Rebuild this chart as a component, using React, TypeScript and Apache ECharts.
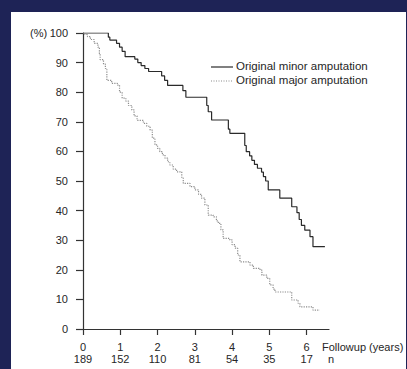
import React, { useEffect, useRef } from "react";
import * as echarts from "echarts";

const yearTicks = [0, 1, 2, 3, 4, 5, 6];
const nAtRisk = [189, 152, 110, 81, 54, 35, 17];
const yTicks = [0, 10, 20, 30, 40, 50, 60, 70, 80, 90, 100];

const seriesNames = ["Original minor amputation", "Original major amputation"];

const minorAmputation: [number, number][] = [
  [0, 100], [0.68, 98.6], [0.72, 97.6], [0.9, 96.5], [0.98, 95.2], [1.05, 93.8], [1.13, 92],
  [1.39, 91.2], [1.47, 90], [1.56, 89], [1.66, 88], [1.76, 87], [2.11, 85.5], [2.19, 84],
  [2.27, 82.3], [2.68, 80.5], [2.76, 78.3], [3.32, 75.5], [3.36, 73.4], [3.45, 70.6],
  [3.9, 67.5], [3.94, 66.1], [4.34, 62], [4.38, 59.9], [4.47, 58.5], [4.53, 57], [4.6, 55.6],
  [4.68, 54.3], [4.79, 53], [4.84, 51.5], [4.9, 50], [4.97, 47], [5.28, 44.2], [5.6, 41.3],
  [5.74, 39.3], [5.8, 37], [5.86, 35], [5.95, 33.4], [6.09, 31.2], [6.17, 27.8], [6.49, 27.8],
];

const majorAmputation: [number, number][] = [
  [0, 100], [0.05, 99.5], [0.12, 98.8], [0.2, 97.8], [0.3, 96.5], [0.4, 95.2], [0.44, 93],
  [0.46, 91], [0.55, 89.5], [0.6, 88], [0.64, 84], [0.77, 83], [0.92, 82.4], [0.98, 80],
  [1.05, 78], [1.15, 77], [1.22, 75.5], [1.31, 74], [1.37, 72], [1.45, 70.5], [1.62, 69.5],
  [1.71, 68.5], [1.8, 67.2], [1.86, 64.5], [1.93, 62.2], [2.0, 61], [2.06, 59.9], [2.13, 58.8],
  [2.2, 57.7], [2.27, 56.5], [2.33, 55.4], [2.42, 54], [2.51, 53.1], [2.65, 51], [2.69, 49.2],
  [2.87, 48.1], [3.0, 47], [3.1, 45.5], [3.18, 44.2], [3.27, 41.9], [3.36, 38.5], [3.49, 37.9],
  [3.58, 36.5], [3.63, 35.7], [3.7, 33.5], [3.76, 30.6], [3.94, 30.1], [4.0, 28.5], [4.08, 27.3],
  [4.15, 25], [4.21, 22.7], [4.48, 21.6], [4.57, 20.5], [4.75, 19.9], [4.8, 18.2], [4.93, 17.1],
  [5.01, 14.9], [5.1, 13.5], [5.15, 12.5], [5.6, 9.8], [5.77, 8.7], [5.82, 7.5], [6.17, 6.4],
  [6.35, 6.2],
];

const FONT = "'Liberation Sans', Arial, sans-serif";
const TEXT = "#262626";
const SOLID = "#2a2a2a";
const DOTTED = "#8c8c8c";

export default function App() {
  const ref = useRef<HTMLDivElement>(null);
  useEffect(() => {
    if (!ref.current) return;
    const chart = echarts.init(ref.current, null, { renderer: "svg" });
    chart.setOption({
      animation: false,
      textStyle: { fontFamily: FONT },
      grid: { left: 83, top: 33, right: 78, bottom: 40, containLabel: false },
      xAxis: {
        type: "value",
        min: 0,
        max: 6.6,
        interval: 1,
        splitLine: { show: false },
        axisLine: { show: true, lineStyle: { color: "#333", width: 1.2 } },
        axisTick: { show: true, length: 6, customValues: yearTicks, lineStyle: { color: "#333", width: 1.2 } },
        axisLabel: {
          customValues: yearTicks,
          margin: 12,
          color: TEXT,
          formatter: (v: number) => {
            const i = yearTicks.indexOf(v);
            return `{y|${v}}\n{n|${i >= 0 ? nAtRisk[i] : ""}}`;
          },
          rich: {
            y: { fontSize: 11, lineHeight: 12, color: TEXT, fontFamily: FONT },
            n: { fontSize: 11, lineHeight: 12, color: TEXT, fontFamily: FONT },
          },
        },
      },
      yAxis: {
        type: "value",
        min: 0,
        max: 100,
        interval: 10,
        splitLine: { show: false },
        axisLine: { show: true, lineStyle: { color: "#333", width: 1.2 } },
        axisTick: { show: true, length: 7, customValues: yTicks, lineStyle: { color: "#333", width: 1.2 } },
        axisLabel: { customValues: yTicks, margin: 15, fontSize: 11, color: TEXT, fontFamily: FONT },
      },
      graphic: [
        { type: "text", left: 30, top: 27, style: { text: "(%)", fontSize: 11, fill: TEXT, fontFamily: FONT } },
        { type: "text", left: 322, top: 341, style: { text: "Followup (years)", fontSize: 11, fill: TEXT, fontFamily: FONT } },
        { type: "text", left: 328, top: 353, style: { text: "n", fontSize: 11, fill: TEXT, fontFamily: FONT } },
        { type: "line", shape: { x1: 211, y1: 67, x2: 233, y2: 67 }, style: { stroke: SOLID, lineWidth: 1.2 } },
        { type: "line", shape: { x1: 211, y1: 81, x2: 233, y2: 81 }, style: { stroke: DOTTED, lineWidth: 1.2, lineDash: [1, 1.5] } },
        { type: "text", left: 236, top: 60, style: { text: seriesNames[0], fontSize: 11.5, fill: TEXT, fontFamily: FONT } },
        { type: "text", left: 236, top: 74, style: { text: seriesNames[1], fontSize: 11.5, fill: TEXT, fontFamily: FONT } },
      ],
      series: [
        {
          name: seriesNames[0],
          type: "line",
          step: "end",
          showSymbol: false,
          symbol: "none",
          data: minorAmputation,
          lineStyle: { color: SOLID, width: 1.2 },
          itemStyle: { color: SOLID },
        },
        {
          name: seriesNames[1],
          type: "line",
          step: "end",
          showSymbol: false,
          symbol: "none",
          data: majorAmputation,
          lineStyle: { color: DOTTED, width: 1.2, type: "dotted" },
          itemStyle: { color: DOTTED },
        },
      ],
    });
    return () => chart.dispose();
  }, []);

  return (
    <div style={{ position: "fixed", left: 0, top: 0, width: 407, height: 369, background: "#1e2356", overflow: "hidden" }}>
      <div style={{ position: "absolute", left: 11, top: 12, width: 395, height: 357, background: "#ffffff" }} />
      <div ref={ref} style={{ position: "absolute", left: 0, top: 0, width: 407, height: 369 }} />
    </div>
  );
}
